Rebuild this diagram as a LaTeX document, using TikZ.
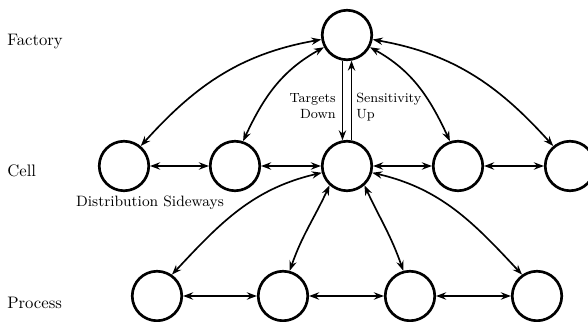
\documentclass[tikz,border=0pt]{standalone}
\usetikzlibrary{arrows.meta}
\begin{document}
\begin{tikzpicture}[x=0.6pt,y=0.6pt,
  tip/.tip={Stealth[length=6pt,width=4.4pt,inset=2pt]},
  unit/.style={circle,draw,line width=1.6pt,minimum size=29.7pt,inner sep=0pt},
  link/.style={line width=1pt,{tip}-{tip}},
  oneway/.style={line width=1pt,-{tip}},
  level/.style={anchor=base west,inner sep=0pt,font=\fontsize{10}{12}\selectfont},
  note/.style={inner sep=0pt,font=\fontsize{8}{9.6}\selectfont}]
\useasboundingbox (0,0) rectangle (588,322);
% levels
\node[level] (lf) at (7,276) {Factory};
\node[level] (lc) at (7,145) {Cell};
\node[level] (lp) at (7,13) {Process};
% circles
\node[unit] (F) at (347,287) {};
\node[unit] (C1) at (124,156) {};
\node[unit] (C2) at (235,156) {};
\node[unit] (C3) at (347,156) {};
\node[unit] (C4) at (458,156) {};
\node[unit] (C5) at (570,156) {};
\node[unit] (P1) at (157,26) {};
\node[unit] (P2) at (283,26) {};
\node[unit] (P3) at (410,26) {};
\node[unit] (P4) at (537,26) {};
% vertical pair
\draw[oneway] (F.260) -- (C3.100);
\draw[oneway] (C3.80) -- (F.280);
\node[note,anchor=base east] (t1) at (336,219) {Targets};
\node[note,anchor=base east] (t2) at (336,203) {Down};
\node[note,anchor=base west] (s1) at (356,219) {Sensitivity};
\node[note,anchor=base west] (s2) at (356,203) {Up};
% factory to cells
\draw[link] (F.190) to[out=190,in=48] (C1.50);
\draw[link] (F.208) to[out=209,in=65] (C2.72);
\draw[link] (F.332) to[out=331,in=115] (C4.108);
\draw[link] (F.350) to[out=350,in=132] (C5.130);
% cell row
\draw[link] (C1.east) -- (C2.west);
\draw[link] (C2.east) -- (C3.west);
\draw[link] (C3.east) -- (C4.west);
\draw[link] (C4.east) -- (C5.west);
\node[inner sep=0pt,anchor=base,font=\fontsize{9}{11}\selectfont] (ds) at (150,115) {Distribution Sideways};
% cell to processes
\draw[link] (C3.195) to[out=193,in=47] (P1.55);
\draw[link] (C3.228) to[out=245,in=71] (P2.75);
\draw[link] (C3.312) to[out=295,in=109] (P3.105);
\draw[link] (C3.345) to[out=347,in=133] (P4.125);
% process row
\draw[link] (P1.east) -- (P2.west);
\draw[link] (P2.east) -- (P3.west);
\draw[link] (P3.east) -- (P4.west);
\end{tikzpicture}
\end{document}
